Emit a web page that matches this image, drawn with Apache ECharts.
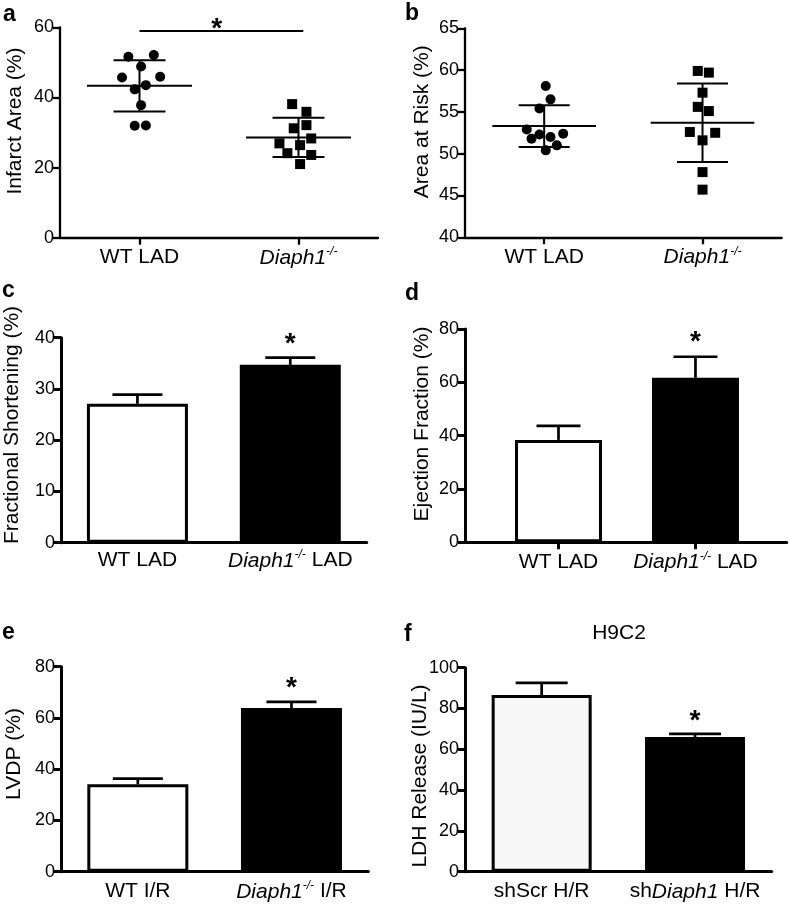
<!DOCTYPE html>
<html>
<head>
<meta charset="utf-8">
<script src="https://cdn.jsdelivr.net/npm/echarts@6/dist/echarts.min.js"></script>
<style>
  html, body { margin: 0; padding: 0; background: #fff; }
  #chart { width: 790px; height: 904px; }
</style>
</head>
<body>
<div id="chart"></div>
<script>
// ---------------- DATA ----------------
// Panel a: Infarct Area (%)
const catsA = ['WT LAD', 'Diaph1-/-'];
const infarctWT_x = [0.93, 1.09, 1.01, 0.89, 1.13, 0.97, 1.04, 1.01, 0.97, 1.04];
const infarctWT_y = [51.6, 52.1, 48.8, 45.7, 45.9, 42.3, 43.5, 37.8, 31.9, 32.0];
const infarctKO_x = [1.96, 2.05, 1.97, 2.05, 2.08, 1.88, 2.01, 1.93, 2.08, 2.01];
const infarctKO_y = [38.1, 35.9, 31.2, 32.1, 28.3, 26.9, 26.4, 24.1, 23.6, 21.0];
const infarctMean = [43.3, 28.6];
const infarctSD = [7.3, 5.6];
const infarctSig = [[1, 58.95], [2.03, 58.95]];
const infarctStar = [1.485, 61.1];
const ticksA = [0, 20, 40, 60];

// Panel b: Area at Risk (%)
const catsB = ['WT LAD', 'Diaph1-/-'];
const riskWT_x = [1.01, 1.04, 0.97, 0.89, 0.92, 0.97, 1.04, 1.12, 1.08, 1.01];
const riskWT_y = [58.1, 56.5, 55.4, 52.9, 51.8, 52.3, 52.0, 52.4, 51.0, 50.4];
const riskKO_x = [1.97, 2.04, 2.00, 1.97, 2.04, 1.92, 2.08, 2.00, 2.00, 2.00];
const riskKO_y = [59.9, 59.7, 57.3, 55.6, 55.1, 52.6, 52.5, 51.6, 47.8, 45.7];
const riskMean = [53.3, 53.7];
const riskSD = [2.5, 4.7];
const ticksB = [40, 45, 50, 55, 60, 65];

// Panel c: Fractional Shortening (%)
const catsC = ['WT LAD', 'Diaph1-/- LAD'];
const fsMean = [27.1, 34.7];
const fsErr = [1.8, 1.4];
const fsStar = [2, 39.9];
const ticksC = [0, 10, 20, 30, 40];

// Panel d: Ejection Fraction (%)
const catsD = ['WT LAD', 'Diaph1-/- LAD'];
const efMean = [38.4, 61.7];
const efErr = [5.3, 7.9];
const efStar = [2, 77.1];
const ticksD = [0, 20, 40, 60, 80];

// Panel e: LVDP (%)
const catsE = ['WT I/R', 'Diaph1-/- I/R'];
const lvdpMean = [34.1, 63.9];
const lvdpErr = [2.2, 2.4];
const lvdpStar = [2, 74.1];
const ticksE = [0, 20, 40, 60, 80];

// Panel f: LDH Release (IU/L), H9C2
const catsF = ['shScr H/R', 'shDiaph1 H/R'];
const ldhMean = [86.6, 66.0];
const ldhErr = [6.0, 1.6];
const ldhStar = [2, 76.8];
const ticksF = [0, 20, 40, 60, 80, 100];

// ---------------- RENDER ----------------
const FONT = '"Liberation Sans", Arial, Helvetica, sans-serif';
const chart = echarts.init(document.getElementById('chart'), null, { renderer: 'canvas' });

function richify(s) {
  return s.replace('Diaph1', '{i|Diaph1}').replace('-/-', '{s|-/-}');
}
const richStyles = {
  i: { fontStyle: 'italic', fontSize: 21, fontFamily: FONT, color: '#000', lineHeight: 24 },
  s: { fontStyle: 'italic', fontSize: 12, fontFamily: FONT, color: '#000', verticalAlign: 'top', lineHeight: 24, padding: [0, 0, 0, 0] }
};

const panels = [
  { grid: { left: 60, top: 27.3, width: 318, height: 210.4 }, xmin: 0.5, xmax: 2.5, ticks: ticksA, cats: catsA, xTick: true, lw: 2.3, lm: 8 },
  { grid: { left: 465, top: 28.3, width: 316.7, height: 209 }, xmin: 0.5, xmax: 2.5, ticks: ticksB, cats: catsB, xTick: true, lw: 2.3, lm: 8 },
  { grid: { left: 61, top: 337.7, width: 305.7, height: 205 }, xmin: 0.5, xmax: 2.5, ticks: ticksC, cats: catsC, xTick: false, lw: 3, lm: 6 },
  { grid: { left: 465, top: 329, width: 321.7, height: 213.3 }, xmin: 0.3175, xmax: 2.666, ticks: ticksD, cats: catsD, xTick: true, lw: 3, lm: 8 },
  { grid: { left: 61, top: 666.7, width: 307.3, height: 205 }, xmin: 0.5, xmax: 2.5, ticks: ticksE, cats: catsE, xTick: false, lw: 3, lm: 8 },
  { grid: { left: 465, top: 667.7, width: 306.7, height: 204 }, xmin: 0.5, xmax: 2.5, ticks: ticksF, cats: catsF, xTick: false, lw: 3, lm: 8 }
];

const grids = [], xAxes = [], yAxes = [];
panels.forEach((p, k) => {
  grids.push(Object.assign({ containLabel: false }, p.grid));
  const cats = p.cats;
  xAxes.push({
    type: 'value', gridIndex: k, min: p.xmin, max: p.xmax,
    splitLine: { show: false },
    axisLine: { show: true, onZero: false, lineStyle: { color: '#000', width: p.lw } },
    axisTick: { show: p.xTick, customValues: [1, 2], length: 7, inside: false, lineStyle: { color: '#000', width: p.lw } },
    axisLabel: {
      customValues: [1, 2], margin: p.lm, color: '#000', fontSize: 21, fontFamily: FONT, lineHeight: 24,
      formatter: v => richify(cats[Math.round(v) - 1] || ''),
      rich: richStyles
    }
  });
  const t = p.ticks;
  yAxes.push({
    type: 'value', gridIndex: k, min: t[0], max: t[t.length - 1], interval: t[1] - t[0],
    splitLine: { show: false },
    axisLine: { show: true, lineStyle: { color: '#000', width: p.lw } },
    axisTick: { show: true, length: 7, inside: false, lineStyle: { color: '#000', width: p.lw } },
    axisLabel: { margin: 6, color: '#000', fontSize: 18, fontFamily: FONT }
  });
});

function zip(xs, ys) { return xs.map((x, i) => [x, ys[i]]); }

function meanSdRender(hwMean, hwCap, lw) {
  return function (params, api) {
    const x = api.value(0), m = api.value(1), sd = api.value(2);
    const c = api.coord([x, m]);
    const up = api.coord([x, m + sd]);
    const lo = api.coord([x, m - sd]);
    const st = { stroke: '#000', lineWidth: lw };
    const ln = (x1, y1, x2, y2) => ({ type: 'line', shape: { x1, y1, x2, y2 }, style: st });
    return { type: 'group', children: [
      ln(c[0] - hwMean, c[1], c[0] + hwMean, c[1]),
      ln(up[0], up[1], lo[0], lo[1]),
      ln(up[0] - hwCap, up[1], up[0] + hwCap, up[1]),
      ln(lo[0] - hwCap, lo[1], lo[0] + hwCap, lo[1])
    ]};
  };
}

function errRender(hwCap, lw) {
  return function (params, api) {
    const x = api.value(0), m = api.value(1), e = api.value(2);
    const b = api.coord([x, m]);
    const tp = api.coord([x, m + e]);
    const st = { stroke: '#000', lineWidth: lw };
    return { type: 'group', children: [
      { type: 'line', shape: { x1: b[0], y1: b[1], x2: tp[0], y2: tp[1] }, style: st },
      { type: 'line', shape: { x1: tp[0] - hwCap, y1: tp[1], x2: tp[0] + hwCap, y2: tp[1] }, style: st }
    ]};
  };
}

function starRender(params, api) {
  const c = api.coord([api.value(0), api.value(1)]);
  return { type: 'text', x: c[0], y: c[1] + 6, style: { text: '*', fill: '#000', font: 'bold 28px ' + FONT, align: 'center', verticalAlign: 'middle' } };
}

const dotStyle = { color: '#000', opacity: 1 };
const series = [];
// Panel a
series.push({ type: 'scatter', xAxisIndex: 0, yAxisIndex: 0, symbol: 'circle', symbolSize: 10, itemStyle: dotStyle, data: zip(infarctWT_x, infarctWT_y), z: 3 });
series.push({ type: 'scatter', xAxisIndex: 0, yAxisIndex: 0, symbol: 'rect', symbolSize: 10, itemStyle: dotStyle, data: zip(infarctKO_x, infarctKO_y), z: 3 });
series.push({ type: 'custom', xAxisIndex: 0, yAxisIndex: 0, renderItem: meanSdRender(52.5, 26, 2), data: [[1, infarctMean[0], infarctSD[0]], [2, infarctMean[1], infarctSD[1]]], z: 2 });
series.push({ type: 'line', xAxisIndex: 0, yAxisIndex: 0, data: infarctSig, symbol: 'none', lineStyle: { color: '#000', width: 2 }, clip: false });
series.push({ type: 'custom', xAxisIndex: 0, yAxisIndex: 0, renderItem: starRender, data: [infarctStar], clip: false });
// Panel b
series.push({ type: 'scatter', xAxisIndex: 1, yAxisIndex: 1, symbol: 'circle', symbolSize: 10, itemStyle: dotStyle, data: zip(riskWT_x, riskWT_y), z: 3 });
series.push({ type: 'scatter', xAxisIndex: 1, yAxisIndex: 1, symbol: 'rect', symbolSize: 10, itemStyle: dotStyle, data: zip(riskKO_x, riskKO_y), z: 3 });
series.push({ type: 'custom', xAxisIndex: 1, yAxisIndex: 1, renderItem: meanSdRender(51.8, 25.5, 2), data: [[1, riskMean[0], riskSD[0]], [2, riskMean[1], riskSD[1]]], z: 2 });

// Bar panels
const barPanels = [
  { idx: 2, mean: fsMean, err: fsErr, star: fsStar, fills: ['#ffffff', '#000000'], bw: 101, cap: 25 },
  { idx: 3, mean: efMean, err: efErr, star: efStar, fills: ['#ffffff', '#000000'], bw: 87, cap: 22 },
  { idx: 4, mean: lvdpMean, err: lvdpErr, star: lvdpStar, fills: ['#ffffff', '#000000'], bw: 101, cap: 25 },
  { idx: 5, mean: ldhMean, err: ldhErr, star: ldhStar, fills: ['#f7f7f7', '#000000'], bw: 100, cap: 26 }
];
barPanels.forEach(bp => {
  series.push({
    type: 'bar', xAxisIndex: bp.idx, yAxisIndex: bp.idx, barWidth: bp.bw,
    itemStyle: { borderColor: '#000', borderWidth: 3, opacity: 1 },
    data: bp.mean.map((v, i) => ({ value: [i + 1, v], itemStyle: { color: bp.fills[i] } })),
    z: 2
  });
  series.push({ type: 'custom', xAxisIndex: bp.idx, yAxisIndex: bp.idx, renderItem: errRender(bp.cap, 2.7),
    data: bp.mean.map((v, i) => [i + 1, v, bp.err[i]]), z: 1 });
  series.push({ type: 'custom', xAxisIndex: bp.idx, yAxisIndex: bp.idx, renderItem: starRender, data: [bp.star], clip: false });
});

// Text decorations (panel letters, axis titles, panel title)
const letters = [
  ['a', 3, 15], ['b', 405, 14], ['c', 2, 291], ['d', 405, 294], ['e', 2, 633], ['f', 404, 635]
];
const yTitles = [
  ['Infarct Area (%)', 15.5, 121], ['Area at Risk (%)', 422.5, 121.7],
  ['Fractional Shortening (%)', 12.5, 425], ['Ejection Fraction (%)', 422.5, 424],
  ['LVDP (%)', 14.5, 754], ['LDH Release (IU/L)', 420.5, 776]
];
const graphic = [];
letters.forEach(l => graphic.push({ type: 'text', x: l[1], y: l[2], style: { text: l[0], fill: '#000', font: 'bold 23px ' + FONT, align: 'left', verticalAlign: 'middle' } }));
yTitles.forEach(t => graphic.push({ type: 'text', x: t[1], y: t[2], rotation: Math.PI / 2, style: { text: t[0], fill: '#000', font: '21px ' + FONT, align: 'center', verticalAlign: 'middle' } }));
graphic.push({ type: 'text', x: 619, y: 633.5, style: { text: 'H9C2', fill: '#000', font: '21px ' + FONT, align: 'center', verticalAlign: 'middle' } });

chart.setOption({
  animation: false,
  backgroundColor: '#fff',
  grid: grids,
  xAxis: xAxes,
  yAxis: yAxes,
  series: series,
  graphic: graphic
});
</script>
</body>
</html>
